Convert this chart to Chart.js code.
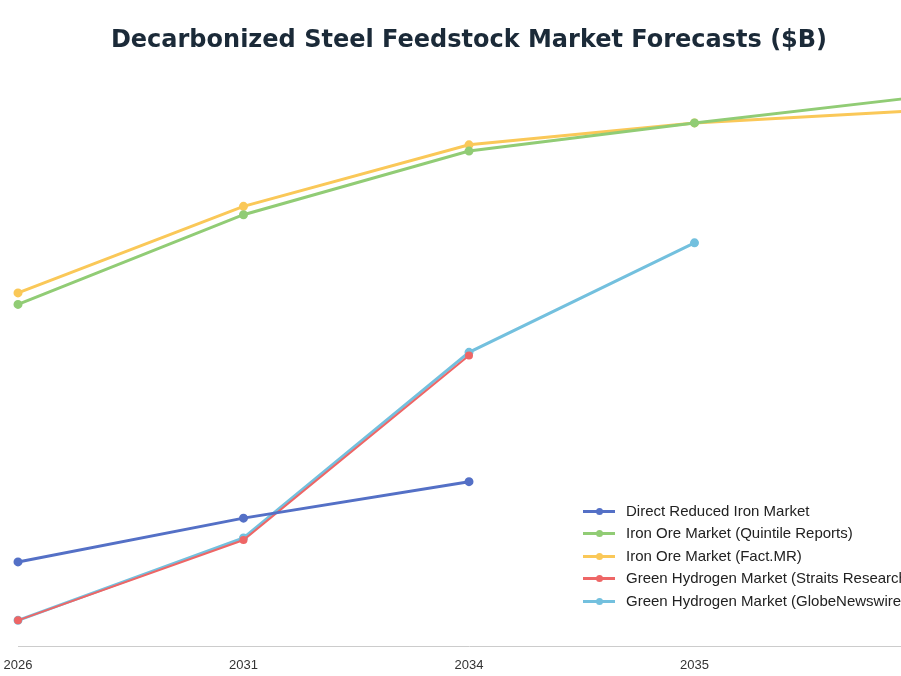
<!DOCTYPE html>
<html>
<head>
<meta charset="utf-8">
<script src="https://cdn.jsdelivr.net/npm/chart.js@4/dist/chart.umd.min.js"></script>
<style>
body { margin:0; overflow:hidden; background:#fff; font-family:"Liberation Sans", Arial, sans-serif; }
#wrap { position:relative; width:938px; height:676px; }
#legend { position:absolute; left:583px; top:500px; font-size:15px; color:#222; white-space:nowrap; }
#legend div { height:22.4px; line-height:22px; position:relative; padding-left:43px; }
#legend span.ln { position:absolute; left:0; top:10px; width:32px; height:3px; }
#legend span.dt { position:absolute; left:13px; top:8px; width:7px; height:7px; border-radius:50%; }
</style>
</head>
<body>
<div id="wrap">
<canvas id="chart" width="938" height="676"></canvas>
<div id="legend"></div>
</div>
<script>
const years = ['2026', '2031', '2034', '2035', '2036'];
const driMarket = [8.1, 12.3, 15.8, null, null];
const ironOreQuintile = [32.8, 41.4, 47.5, 50.2, 52.7];
const ironOreFactMR = [33.9, 42.2, 48.1, 50.2, 51.4];
const h2Straits = [2.5, 10.2, 27.9, null, null];
const h2GlobeNews = [2.5, 10.4, 28.2, 38.7, null];

const names = ['Direct Reduced Iron Market', 'Iron Ore Market (Quintile Reports)', 'Iron Ore Market (Fact.MR)',
  'Green Hydrogen Market (Straits Research)', 'Green Hydrogen Market (GlobeNewswire)'];
const colors = ['#5470c6', '#91cc75', '#fac858', '#ee6666', '#73c0de'];
const series = [driMarket, ironOreQuintile, ironOreFactMR, h2Straits, h2GlobeNews];

const data = {
  labels: years,
  datasets: series.map((s, i) => ({
    label: names[i],
    data: s,
    borderColor: colors[i],
    backgroundColor: colors[i],
    borderWidth: i == 3 ? 2 : 3,
    pointRadius: 3,
    tension: 0,
    fill: false
  }))
};

const config = {
  type: 'line',
  data: data,
  options: {
    responsive: false,
    animation: false,
    layout: { padding: { left: 18, right: 18, top: 0, bottom: 0 } },
    plugins: {
      legend: { display: false },
      title: {
        display: true,
        text: 'Decarbonized Steel Feedstock Market Forecasts ($B)',
        color: '#1b2a38',
        font: { size: 24, weight: 'bold', family: 'DejaVu Sans' },
        padding: { top: 26, bottom: 16 }
      }
    },
    scales: {
      x: {
        offset: false,
        grid: { display: false },
        border: { color: '#ccc' },
        ticks: { color: '#333', font: { size: 13 } }
      },
      y: { display: false, min: 0, max: 55.2 }
    }
  }
};

var ctx = document.getElementById('chart').getContext('2d');
var chart = new Chart(ctx, config);

var lg = document.getElementById('legend');
names.forEach((n, i) => {
  var d = document.createElement('div');
  d.innerHTML = '<span class="ln" style="background:' + colors[i] + '"></span><span class="dt" style="background:' + colors[i] + '"></span>' + n;
  lg.appendChild(d);
});
</script>
</body>
</html>
